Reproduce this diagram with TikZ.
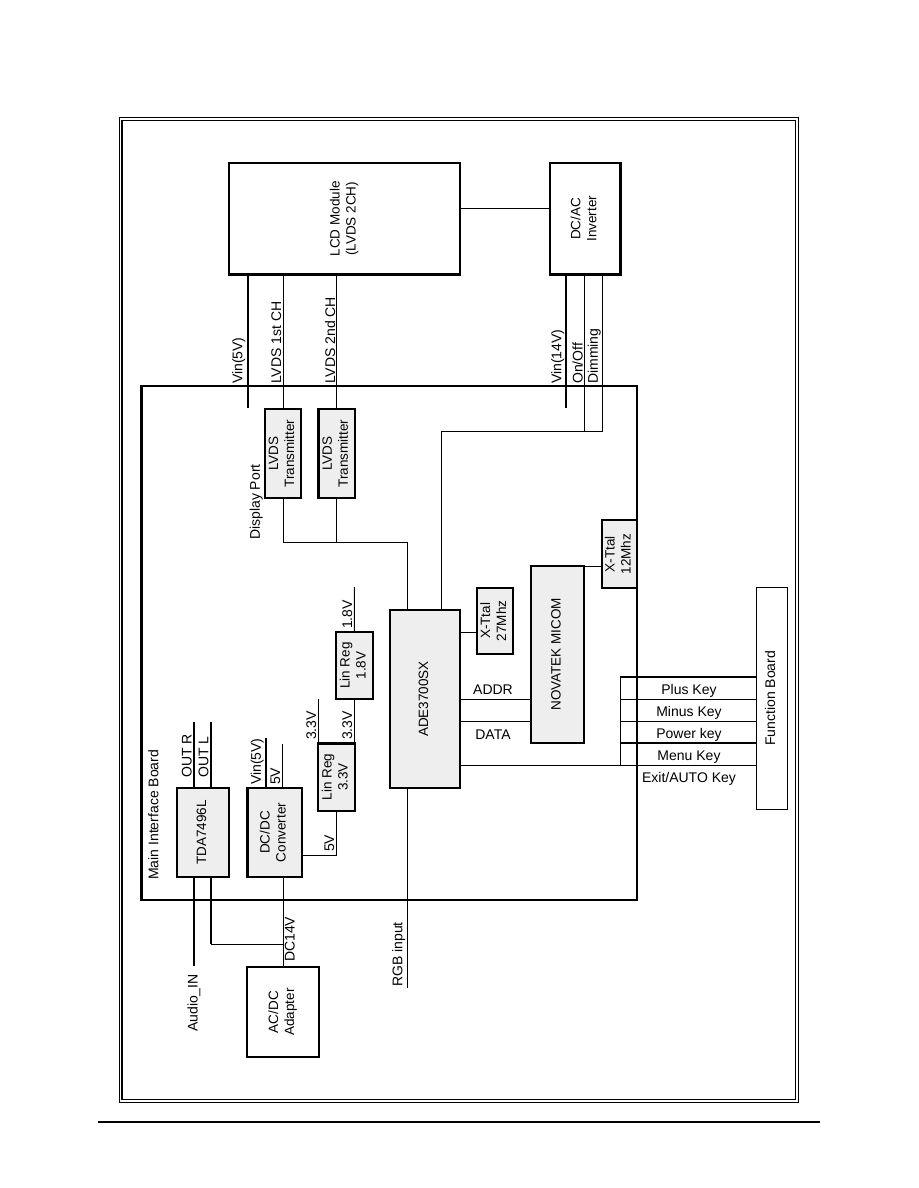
\documentclass[tikz,border=0pt]{standalone}
\usepackage{fontspec}
\setmainfont{Liberation Sans}
\usetikzlibrary{calc}
\definecolor{boxgray}{RGB}{238,238,238}
\newcommand\rt[1]{\rotatebox{90}{\begin{tabular}{@{}c@{}}#1\end{tabular}}}
\newcommand\fb{\fontsize{13.5}{16}\selectfont}
\newcommand\fl{\fontsize{14}{16.5}\selectfont}
\begin{document}
\begin{tikzpicture}[x=1pt,y=-1pt,
  gbox/.style={draw, line width=2.4pt, fill=boxgray, inner sep=0pt, font=\fb},
  wbox/.style={draw, line width=2.4pt, fill=white, inner sep=0pt, font=\fb},
  sig/.style={line width=0.9pt},
  pwr/.style={line width=2pt},
  vlab/.style={rotate=90, inner sep=1pt, font=\fl, anchor=south west},
  hlab/.style={inner sep=0pt, font=\fl}]
\useasboundingbox (0,0) rectangle (918,1188);
% frame
\draw[line width=0.9pt] (119.3,117.7) rectangle (798.3,1102.3);
\draw[line width=1.4pt] (122,120.3) rectangle (795.7,1099.3);
\draw[line width=2pt] (98,1121.7) -- (820,1121.7);

% main board
\node[draw, line width=2.6pt, minimum width=495.5, minimum height=514, inner sep=0pt] (board) at (389.25,643) {};
\node[vlab, anchor=north west] (boardlab) at (147,881) {Main Interface Board};

% boxes
\node[wbox, minimum width=231, minimum height=111.5] (lcd) at (344.5,218.75) {\rt{LCD Module\\(LVDS 2CH)}};
\node[wbox, minimum width=70.5, minimum height=111.5] (inv) at (585.25,218.75) {\rt{DC/AC\\Inverter}};
\node[gbox, minimum width=36, minimum height=89] (tx1) at (283,453.5) {\rt{LVDS\\Transmitter}};
\node[gbox, minimum width=36.5, minimum height=89] (tx2) at (336.75,453.5) {\rt{LVDS\\Transmitter}};
\node[gbox, minimum width=70, minimum height=178] (ade) at (425,699) {\rt{ADE3700SX}};
\node[gbox, minimum width=36, minimum height=66.3] (x27) at (495,620.85) {\rt{X-Ttal\\27Mhz}};
\node[gbox, line width=1.8pt, minimum width=53, minimum height=177.3] (mic) at (557.5,654.35) {\rt{NOVATEK MICOM}};
\node[gbox, minimum width=35.3, minimum height=68] (x12) at (619.35,554) {\rt{X-Ttal\\12Mhz}};
\node[gbox, minimum width=52, minimum height=89] (tda) at (203,832.5) {\rt{TDA7496L}};
\node[gbox, minimum width=54.4, minimum height=89] (dcdc) at (274.5,832.5) {\rt{DC/DC\\Converter}};
\node[gbox, minimum width=37, minimum height=67.2] (lr33) at (336.5,777.1) {\rt{Lin Reg\\3.3V}};
\node[gbox, minimum width=36.7, minimum height=67] (lr18) at (354.35,665.5) {\rt{Lin Reg\\1.8V}};
\node[wbox, minimum width=72, minimum height=90] (acdc) at (283,1012) {\rt{AC/DC\\Adapter}};
\node[draw, line width=0.9pt, fill=white, inner sep=0pt, font=\fl, minimum width=30.3, minimum height=221.3] (fbd) at (771.85,698.35) {\rt{Function Board}};

% LCD / inverter connectors
\coordinate (vin5e) at (247.5,408);
\coordinate (vin14e) at (566,408);
\coordinate (ctlR) at (602.5,431);
\coordinate (ctlL) at (441.7,431);
\draw[sig] (lcd.east |- 0,208.3) -- (inv.west |- 0,208.3);
\draw[pwr] (lcd.south -| vin5e) -- (vin5e);
\draw[sig] (lcd.south -| tx1.north) -- (tx1.north);
\draw[sig] (lcd.south -| tx2.north) -- (tx2.north);
\draw[pwr] (inv.south -| vin14e) -- (vin14e);
\draw[sig] (inv.south -| 584.5,0) -- (584.5,431);
\draw[sig] (inv.south -| ctlR) -- (ctlR) -- (ctlL) -- (ade.north -| ctlL);

\node[vlab] (l1) at (246.5,385) {Vin(5V)};
\node[vlab] (l2) at (282.5,385) {LVDS 1st CH};
\node[vlab] (l3) at (336.5,385) {LVDS 2nd CH};
\node[vlab] (l4) at (565.5,385) {Vin(14V)};
\node[vlab] (l5) at (584,385) {On/Off};
\node[vlab] (l6) at (602,385) {Dimming};

% display port
\coordinate (dp) at (407.3,542.7);
\draw[sig] (tx1.south) -- (tx1.south |- dp) -- (dp) -- (ade.north -| dp);
\draw[sig] (tx2.south) -- (tx2.south |- dp);
\node[vlab] (dplab) at (264,541) {Display Port};

% ADE connections
\coordinate (rgbe) at (407.3,988);
\draw[sig] (ade.south -| rgbe) -- (rgbe);
\node[vlab] (rgblab) at (406.5,988) {RGB input};
\draw[sig] (ade.east |- 0,632.7) -- (x27.west |- 0,632.7);
\draw[sig] (ade.east |- 0,699) -- (mic.west |- 0,699);
\draw[sig] (ade.east |- 0,721.7) -- (mic.west |- 0,721.7);
\node[hlab] (addr) at (493,690) {ADDR};
\node[hlab] (data) at (493,735) {DATA};
\draw[sig] (mic.east |- 0,566.5) -- (x12.west |- 0,566.5);

% keys
\draw[sig] (ade.east |- 0,765.7) -- (fbd.west |- 0,765.7);
\draw[sig] (620,677) -- (620,765.7);
\draw[pwr] (620,677) -- (fbd.west |- 0,677);
\draw[sig] (620,699) -- (fbd.west |- 0,699);
\draw[sig] (620,721.7) -- (fbd.west |- 0,721.7);
\draw[pwr] (620,743) -- (fbd.west |- 0,743);
\node[hlab] (k1) at (689,690.7) {Plus Key};
\node[hlab] (k2) at (689,712.7) {Minus Key};
\node[hlab] (k3) at (689,735) {Power key};
\node[hlab] (k4) at (689,757) {Menu Key};
\node[hlab] (k5) at (689,779) {Exit/AUTO Key};

% regulators
\draw[sig] (lr18.north) -- (354.3,587);
\node[vlab] (l18) at (353.5,630) {1.8V};
\draw[sig] (318.3,743.5) -- (318.3,699);
\node[vlab] (l33a) at (317.5,741) {3.3V};
\draw[sig] (lr33.north -| lr18.south) -- (lr18.south);
\node[vlab] (l33b) at (353.5,741) {3.3V};
\draw[sig] (dcdc.east |- 0,855) -- (336,855) -- (lr33.south -| 336,0);
\node[vlab] (l5c) at (335.5,853) {5V};

% DC/DC outputs
\draw[pwr] (dcdc.north -| 266,0) -- (266,738);
\node[vlab] (lv5) at (265,786) {Vin(5V)};
\draw[sig] (dcdc.north -| 282.3,0) -- (282.3,744);
\node[vlab] (l5b) at (281.5,786) {5V};

% audio
\draw[pwr] (tda.north -| 194,0) -- (194,721.7);
\draw[pwr] (tda.north -| 210.7,0) -- (210.7,721.7);
\node[vlab] (lor) at (193,779) {OUT R};
\node[vlab] (lol) at (209.7,779) {OUT L};
\coordinate (ain) at (194,966);
\draw[pwr] (tda.south -| ain) -- (ain);
\node[vlab, anchor=east] (ainlab) at (194,973) {Audio\_IN};
\draw[pwr] (tda.south -| 210.7,0) -- (210.7,944);
\draw[sig] (210.7,944) -- (282.7,944);
\draw[sig] (dcdc.south -| acdc.north) -- (acdc.north);
\node[vlab, anchor=north west] (dc14) at (283.7,963) {DC14V};
\end{tikzpicture}
\end{document}
